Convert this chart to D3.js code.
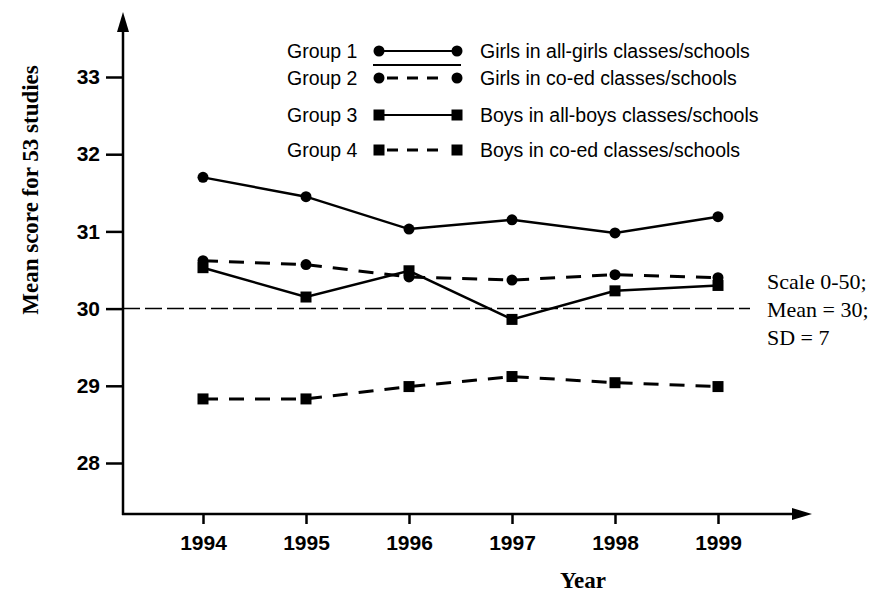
<!DOCTYPE html>
<html><head><meta charset="utf-8">
<script src="https://cdn.jsdelivr.net/npm/d3@7"></script>
<style>body{margin:0;background:#fff}svg{display:block}</style>
</head><body>
<script>
const years = [1994, 1995, 1996, 1997, 1998, 1999];
const group1 = [31.70, 31.45, 31.03, 31.15, 30.98, 31.19];
const group2 = [30.62, 30.57, 30.41, 30.37, 30.44, 30.40];
const group3 = [30.53, 30.15, 30.49, 29.86, 30.23, 30.30];
const group4 = [28.83, 28.83, 28.99, 29.12, 29.04, 28.99];
const yTicks = [28, 29, 30, 31, 32, 33];
const groupNames = ["Group 1", "Group 2", "Group 3", "Group 4"];
const groupLabels = ["Girls in all-girls classes/schools", "Girls in co-ed classes/schools",
  "Boys in all-boys classes/schools", "Boys in co-ed classes/schools"];
const noteLines = ["Scale 0-50;", "Mean = 30;", "SD = 7"];
const meanValue = 30;

const W = 885, H = 596;
const svg = d3.select("body").append("svg").attr("width", W).attr("height", H);
const x = d3.scaleLinear().domain([1994, 1999]).range([203, 718]);
const y = d3.scaleLinear().domain([28, 33]).range([463, 77]);
const axisX = 123, axisY = 514;
const sans = "Liberation Sans, Arial, sans-serif";
const serif = "Liberation Serif, Times New Roman, serif";

const series = [
  {vals: group1, dash: null, marker: "circle"},
  {vals: group2, dash: "15,11", marker: "circle"},
  {vals: group3, dash: null, marker: "square"},
  {vals: group4, dash: "15,11", marker: "square"}
];

// Axes
const yAxis = d3.axisLeft(y).tickValues(yTicks).tickSize(17).tickPadding(6).tickFormat(d3.format("d"));
const gy = svg.append("g").attr("transform", `translate(${axisX},0)`).call(yAxis);
gy.select(".domain").remove();
gy.selectAll(".tick line").attr("stroke", "#000").attr("stroke-width", 2.5);
gy.selectAll(".tick text").attr("font-family", sans)
  .attr("font-weight", "bold").attr("font-size", 21).attr("fill", "#000");

const xAxis = d3.axisBottom(x).tickValues(years).tickSize(10).tickPadding(11).tickFormat(d3.format("d"));
const gx = svg.append("g").attr("transform", `translate(0,${axisY})`).call(xAxis);
gx.select(".domain").remove();
gx.selectAll(".tick line").attr("stroke", "#000").attr("stroke-width", 2.5);
gx.selectAll(".tick text").attr("font-family", sans)
  .attr("font-weight", "bold").attr("font-size", 21).attr("fill", "#000");

// Axis lines with arrows
svg.append("line").attr("x1", axisX).attr("y1", axisY + 1).attr("x2", axisX).attr("y2", 28)
  .attr("stroke", "#000").attr("stroke-width", 2.5);
svg.append("path").attr("d", `M${axisX},12 L${axisX - 6},32 L${axisX + 6},32 Z`).attr("fill", "#000");
svg.append("line").attr("x1", axisX - 1).attr("y1", axisY).attr("x2", 796).attr("y2", axisY)
  .attr("stroke", "#000").attr("stroke-width", 2.5);
svg.append("path").attr("d", `M812,${axisY} L792,${axisY - 6} L792,${axisY + 6} Z`).attr("fill", "#000");

// Mean line
svg.append("line").attr("x1", axisX).attr("x2", 750).attr("y1", y(meanValue)).attr("y2", y(meanValue))
  .attr("stroke", "#000").attr("stroke-width", 1.5).attr("stroke-dasharray", "17,5");

// Axis titles
svg.append("text").attr("transform", `translate(38,190) rotate(-90)`).attr("text-anchor", "middle")
  .attr("font-family", serif).attr("font-weight", "bold")
  .attr("font-size", 23).text("Mean score for 53 studies");
svg.append("text").attr("x", 583).attr("y", 588).attr("text-anchor", "middle")
  .attr("font-family", serif).attr("font-weight", "bold")
  .attr("font-size", 23).text("Year");

// Note
svg.append("g").selectAll("text").data(noteLines).join("text")
  .attr("x", 767).attr("y", (d, i) => 289 + i * 28)
  .attr("font-family", serif).attr("font-size", 22).text(d => d);

// Series
const line = d3.line().x((d, i) => x(years[i])).y(d => y(d));
function drawMarker(g, type, cx, cy) {
  if (type === "circle") g.append("circle").attr("cx", cx).attr("cy", cy).attr("r", 5.5).attr("fill", "#000");
  else g.append("rect").attr("x", cx - 5.5).attr("y", cy - 5.5).attr("width", 11).attr("height", 11).attr("fill", "#000");
}
series.forEach(s => {
  const g = svg.append("g");
  g.append("path").datum(s.vals).attr("d", line).attr("fill", "none").attr("stroke", "#000")
    .attr("stroke-width", s.dash ? 3 : 2.5).attr("stroke-dasharray", s.dash);
  s.vals.forEach((v, i) => drawMarker(g, s.marker, x(years[i]), y(v)));
});

// Legend
const legendY = [51, 78, 115, 150];
const lg = svg.append("g");
series.forEach((s, i) => {
  const ly = legendY[i];
  lg.append("text").attr("x", 287).attr("y", ly + 7).attr("font-family", sans)
    .attr("font-size", 19.5).text(groupNames[i]);
  lg.append("line").attr("x1", 379).attr("x2", 457).attr("y1", ly).attr("y2", ly).attr("stroke", "#000")
    .attr("stroke-width", s.dash ? 3 : 2).attr("stroke-dasharray", s.dash ? "0,8,11,9,11,9,11,30" : null);
  drawMarker(lg, s.marker, 379, ly);
  drawMarker(lg, s.marker, 457, ly);
  lg.append("text").attr("x", 480).attr("y", ly + 7).attr("font-family", sans)
    .attr("font-size", 19.5).text(groupLabels[i]);
});
lg.append("line").attr("x1", 373).attr("x2", 461).attr("y1", 65).attr("y2", 65).attr("stroke", "#000").attr("stroke-width", 2);
</script>
</body></html>
